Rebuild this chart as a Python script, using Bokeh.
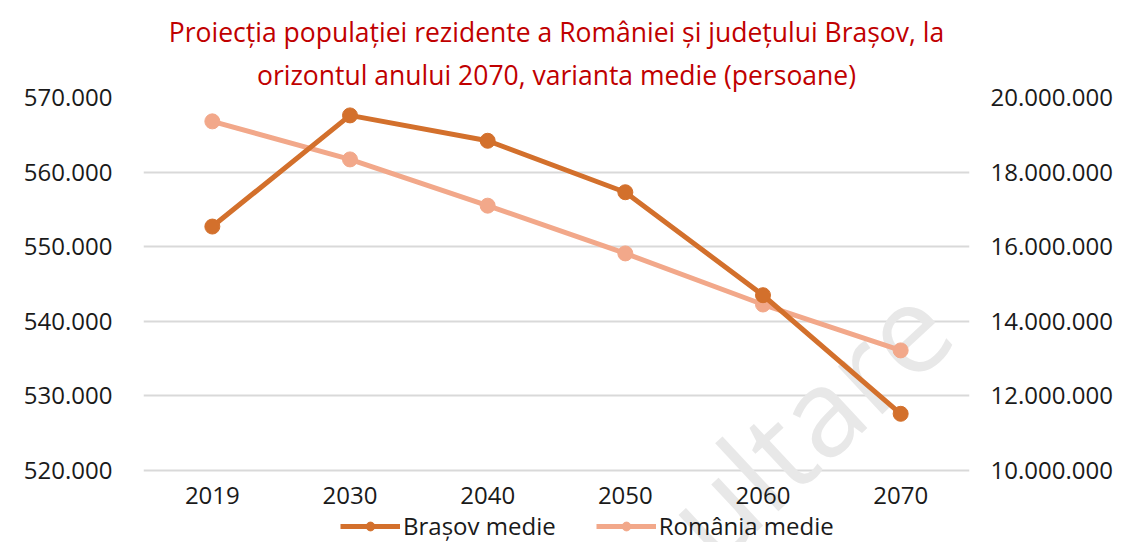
from bokeh.plotting import figure
from bokeh.models import (Range1d, LinearAxis, FixedTicker, Legend, LegendItem,
                          Label, Title, ColumnDataSource)
from bokeh.embed import file_html
from bokeh.resources import INLINE

# ---- data ----
years = ["2019", "2030", "2040", "2050", "2060", "2070"]
brasov_medie = [552700, 567600, 564200, 557300, 543500, 527600]
romania_medie = [19360000, 18340000, 17100000, 15820000, 14450000, 13220000]

left_ticks = [520000, 530000, 540000, 550000, 560000, 570000]
left_labels = ["520.000", "530.000", "540.000", "550.000", "560.000", "570.000"]
right_ticks = [10000000, 12000000, 14000000, 16000000, 18000000, 20000000]
right_labels = ["10.000.000", "12.000.000", "14.000.000", "16.000.000",
                "18.000.000", "20.000.000"]

title_line1 = "Proiecția populației rezidente a României și județului Brașov, la"
title_line2 = "orizontul anului 2070, varianta medie (persoane)"
series_names = ["Brașov medie", "România medie"]
watermark_text = "ultare"

FONT = "Open Sans"
C_BRASOV = "#D3702C"
C_ROMANIA = "#F2A88A"
GRID = "#D9D9D9"
TXT = "#1A1A1A"

# layout (pixels): plotting band 373 px high, frame extended 72 px below it
W, H, TOP, BAND = 1115, 542, 97, 373
EXTRA = H - TOP - BAND
l_lo, l_hi = left_ticks[0], left_ticks[-1]
r_lo, r_hi = right_ticks[0], right_ticks[-1]
l_min = l_lo - (l_hi - l_lo) * EXTRA / BAND
r_min = r_lo - (r_hi - r_lo) * EXTRA / BAND

p = figure(x_range=years, y_range=Range1d(l_min, l_hi),
           width=W, height=H, output_backend="svg", toolbar_location=None,
           min_border_left=143, min_border_right=137, min_border_top=TOP,
           min_border_bottom=0)
p.extra_y_ranges = {"right": Range1d(r_min, r_hi)}
p.outline_line_color = None
p.xgrid.grid_line_color = None
p.ygrid.grid_line_color = GRID
p.ygrid.grid_line_width = 2
p.ygrid.ticker = FixedTicker(ticks=left_ticks)

# title: two centred lines (p.title is the outer one)
p.title = Title(text=title_line1, align="center", text_color="#C00000",
                text_font=FONT, text_font_size="26.5px",
                text_font_style="normal", standoff=1)
p.add_layout(Title(text=title_line2, align="center", text_color="#C00000",
                   text_font=FONT, text_font_size="26.5px",
                   text_font_style="normal", standoff=9), "above")

# axes
def style_axis(ax):
    ax.axis_line_color = None
    ax.major_tick_line_color = None
    ax.minor_tick_line_color = None
    ax.major_label_text_font = FONT
    ax.major_label_text_font_size = "24px"
    ax.major_label_text_color = TXT

p.yaxis.ticker = FixedTicker(ticks=left_ticks)
p.yaxis.major_label_overrides = dict(zip(left_ticks, left_labels))
p.yaxis.major_label_standoff = 25
style_axis(p.yaxis[0])

p.xaxis.fixed_location = l_lo
p.xaxis.major_label_standoff = 10
style_axis(p.xaxis[0])

raxis = LinearAxis(y_range_name="right", ticker=FixedTicker(ticks=right_ticks))
raxis.major_label_overrides = dict(zip(right_ticks, right_labels))
raxis.major_label_standoff = 15
style_axis(raxis)
p.add_layout(raxis, "right")

# watermark
wm = Label(x=597, y=-53, x_units="screen", y_units="screen", text=watermark_text,
           angle=0.75, text_font=FONT, text_font_size="122px",
           text_color="#E8E8E8", level="underlay")
p.add_layout(wm)

# series
src_b = ColumnDataSource(dict(x=years, y=brasov_medie))
src_r = ColumnDataSource(dict(x=years, y=romania_medie))

lr = p.line("x", "y", source=src_r, y_range_name="right", line_color=C_ROMANIA,
            line_width=5)
sr = p.scatter("x", "y", source=src_r, y_range_name="right", size=15,
               fill_color=C_ROMANIA, line_color=C_ROMANIA)
lb = p.line("x", "y", source=src_b, line_color=C_BRASOV, line_width=5)
sb = p.scatter("x", "y", source=src_b, size=15, fill_color=C_BRASOV,
               line_color=C_BRASOV)

legend = Legend(items=[LegendItem(label=series_names[0], renderers=[lb, sb]),
                       LegendItem(label=series_names[1], renderers=[lr, sr])],
                orientation="horizontal", location=(197, 0),
                glyph_width=60, glyph_height=22, label_standoff=3, spacing=40,
                padding=0, margin=0, border_line_color=None,
                background_fill_alpha=0,
                label_text_font=FONT, label_text_font_size="24px",
                label_text_color=TXT)
p.add_layout(legend, "center")

open("out.html", "w").write(file_html(p, INLINE))
